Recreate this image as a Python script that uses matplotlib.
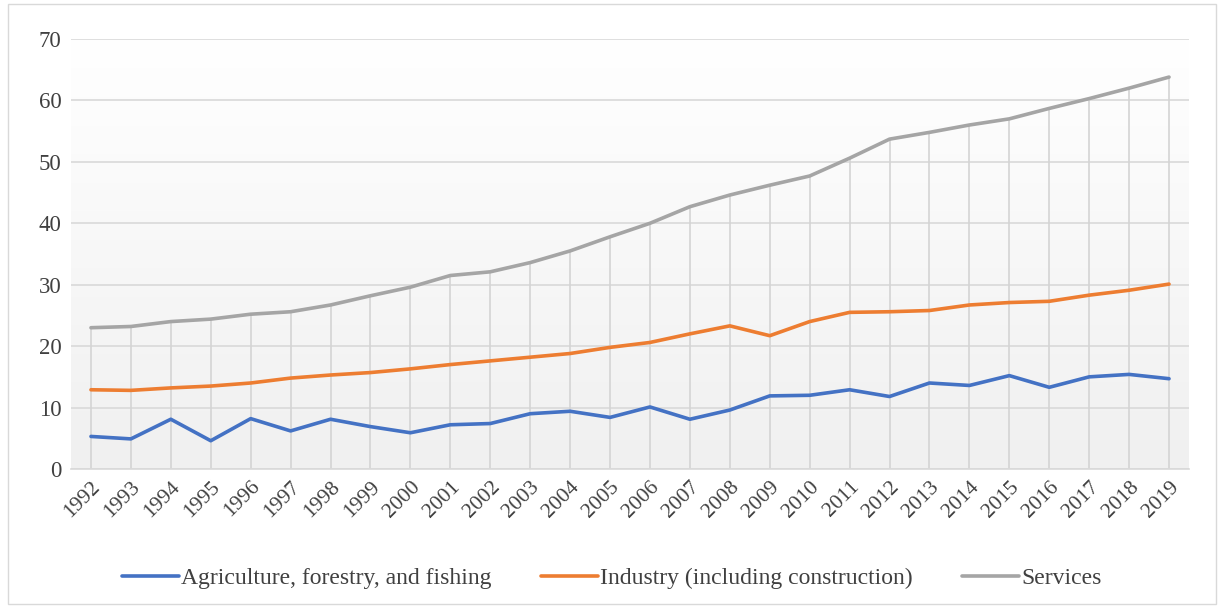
import matplotlib
matplotlib.use("Agg")
import matplotlib.pyplot as plt
import numpy as np
from matplotlib.patches import Rectangle

years = [str(y) for y in range(1992, 2020)]
agriculture = [5.3, 4.9, 8.1, 4.6, 8.2, 6.2, 8.1, 6.9, 5.9, 7.2, 7.4, 9.0, 9.4, 8.4, 10.1, 8.1, 9.6, 11.9, 12.0, 12.9, 11.8, 14.0, 13.6, 15.2, 13.3, 15.0, 15.4, 14.7]
industry = [12.9, 12.8, 13.2, 13.5, 14.0, 14.8, 15.3, 15.7, 16.3, 17.0, 17.6, 18.2, 18.8, 19.8, 20.6, 22.0, 23.3, 21.7, 24.0, 25.5, 25.6, 25.8, 26.7, 27.1, 27.3, 28.3, 29.1, 30.1]
services = [23.0, 23.2, 24.0, 24.4, 25.2, 25.6, 26.7, 28.2, 29.6, 31.5, 32.1, 33.6, 35.5, 37.8, 40.0, 42.7, 44.6, 46.2, 47.7, 50.6, 53.7, 54.8, 56.0, 57.0, 58.7, 60.3, 62.0, 63.8]
series_names = ["Agriculture, forestry, and fishing", "Industry (including construction)", "Services"]
colors = ["#4472C4", "#ED7D31", "#A5A5A5"]
yticks = [0, 10, 20, 30, 40, 50, 60, 70]

plt.rcParams['font.family'] = ['Liberation Serif', 'DejaVu Serif']

fig = plt.figure(figsize=(12.24, 6.08), dpi=100)
fig.patch.set_facecolor('white')
fig.patches.append(Rectangle((8/1224, 4/608), 1208/1224, 600/608, transform=fig.transFigure,
                             fill=False, edgecolor='#d9d9d9', linewidth=1.0))

ax = fig.add_axes([71/1224, 1 - 469/608, (1189 - 71)/1224, (469 - 39)/608])
x = np.arange(len(years))
n = len(years)

# gradient background: white at top, light gray at bottom
grad = np.linspace(0, 1, 256).reshape(-1, 1)
top = np.array([1.0, 1.0, 1.0])
bot = np.array([0xf0, 0xf0, 0xf0]) / 255.0
img = top[None, None, :] * (1 - grad[:, :, None]) + bot[None, None, :] * grad[:, :, None]
ax.imshow(img, extent=[-0.5, n - 0.5, 0, 70], aspect='auto', zorder=0, origin='upper')
ax.set_xlim(-0.5, n - 0.5)
ax.set_ylim(0, 70)

ax.set_xticks(x)
ax.set_xticklabels(years, rotation=45, ha='right', va='top', rotation_mode='anchor', fontsize=15.5, color='#404040')
ax.set_yticks(yticks)
ax.set_yticklabels([str(v) for v in yticks], fontsize=16.5, color='#404040')
ax.tick_params(axis='both', length=0)
ax.tick_params(axis='y', pad=7)
ax.tick_params(axis='x', pad=6)
ax.grid(True, axis='y', color='#d9d9d9', linewidth=1.2, zorder=1)
ax.set_axisbelow(True)
for s in ['top', 'right', 'left']:
    ax.spines[s].set_visible(False)
ax.spines['bottom'].set_color('#d9d9d9')
ax.spines['bottom'].set_linewidth(1.2)

# drop lines from the top series to the axis
ax.vlines(x, 0, services, color='#d4d4d4', linewidth=1.2, zorder=2)

for vals, name, c in zip([agriculture, industry, services], series_names, colors):
    ax.plot(x, vals, color=c, linewidth=2.6, label=name, zorder=3, solid_capstyle='round')

leg = fig.legend(loc='center', bbox_to_anchor=(0.5, 1 - 578/608), ncol=3, frameon=False,
                 fontsize=17, handlelength=2.4, handletextpad=0.1, columnspacing=2.1)
for t in leg.get_texts():
    t.set_color('#404040')

fig.savefig('out.png', dpi=100)
